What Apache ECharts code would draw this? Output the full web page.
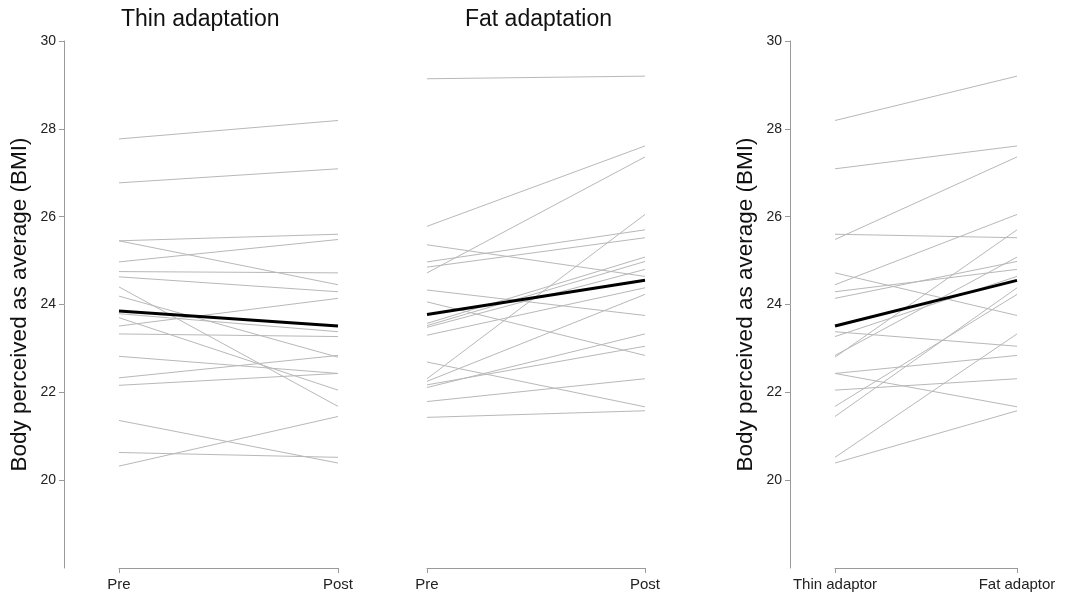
<!DOCTYPE html>
<html>
<head>
<meta charset="utf-8">
<script src="https://cdn.jsdelivr.net/npm/echarts@6/dist/echarts.min.js"></script>
<style>
html,body{margin:0;padding:0;background:#fff;}
#chart{width:1066px;height:596px;}
</style>
</head>
<body>
<div id="chart"></div>
<script>
// Per participant values (BMI perceived as average)
const thinPre  = [27.77, 26.77, 25.45, 24.97, 24.75, 25.45, 24.63, 23.79, 23.51, 23.33, 22.33, 24.19, 22.82, 22.16, 23.70, 24.40, 20.32, 20.63, 21.36];
const thinPost = [28.19, 27.09, 25.60, 25.48, 24.72, 24.45, 24.29, 23.38, 24.14, 23.27, 22.84, 22.80, 22.43, 22.43, 22.05, 21.68, 21.45, 20.52, 20.39];
const fatPre   = [29.14, 25.78, 24.85, 24.72, 24.33, 22.31, 23.48, 22.17, 23.52, 25.36, 23.57, 24.97, 22.69, 24.06, 21.79, 22.25, 23.30, 22.11, 21.43];
const fatPost  = [29.20, 27.61, 25.52, 27.36, 23.75, 26.05, 24.80, 23.05, 24.98, 24.64, 25.08, 25.70, 21.67, 22.84, 22.31, 24.23, 24.38, 23.33, 21.58];
const meanThin    = [23.85, 23.51];
const meanFat     = [23.77, 24.55];
const meanAdaptor = [23.51, 24.55];
const catsAdapt   = ['Pre', 'Post'];
const catsAdaptor = ['Thin adaptor', 'Fat adaptor'];
const titles      = ['Thin adaptation', 'Fat adaptation'];
const yTicks      = [20, 22, 24, 26, 28, 30];
const yName       = 'Body perceived as average (BMI)';

const FONT = 'Liberation Sans, Arial, sans-serif';
const AXIS_COLOR = '#9a9a9a';
const LINE_COLOR = '#b8b8b8';

const grids = [
  {left: 119, width: 219, top: 41, height: 527},
  {left: 427, width: 218, top: 41, height: 527},
  {left: 835, width: 182, top: 41, height: 527}
];
const yOffsets = [55, 0, 45];

function xAx(i, cats) {
  return {
    gridIndex: i, type: 'category', data: cats, boundaryGap: false,
    axisLine: {lineStyle: {color: AXIS_COLOR, width: 1}},
    axisTick: {show: true, length: 5, lineStyle: {color: AXIS_COLOR}},
    axisLabel: {color: '#222', fontSize: 15, fontFamily: FONT, margin: 9},
    splitLine: {show: false}
  };
}
function yAx(i, show) {
  return {
    gridIndex: i, type: 'value', min: 18, max: 30, interval: 2, show: show,
    offset: yOffsets[i],
    name: yName, nameLocation: 'middle', nameGap: 33,
    nameTextStyle: {color: '#111', fontSize: 22.5, fontFamily: FONT},
    axisLine: {show: true, lineStyle: {color: AXIS_COLOR, width: 1}},
    axisTick: {show: true, length: 5, customValues: yTicks, lineStyle: {color: AXIS_COLOR}},
    axisLabel: {color: '#222', fontSize: 14, fontFamily: FONT, margin: 8, customValues: yTicks},
    splitLine: {show: false}
  };
}

const series = [];
function addPanel(idx, a, b, mean) {
  for (let k = 0; k < a.length; k++) {
    series.push({
      type: 'line', xAxisIndex: idx, yAxisIndex: idx, data: [a[k], b[k]],
      symbol: 'none', silent: true, z: 2,
      lineStyle: {color: LINE_COLOR, width: 1}
    });
  }
  series.push({
    type: 'line', xAxisIndex: idx, yAxisIndex: idx, data: mean,
    symbol: 'none', silent: true, z: 5,
    lineStyle: {color: '#000', width: 3}
  });
}
addPanel(0, thinPre, thinPost, meanThin);
addPanel(1, fatPre, fatPost, meanFat);
addPanel(2, thinPost, fatPost, meanAdaptor);

const chart = echarts.init(document.getElementById('chart'), null, {renderer: 'canvas'});
chart.setOption({
  animation: false,
  backgroundColor: '#fff',
  title: [
    {text: titles[0], left: 121, top: 8, padding: 0, textStyle: {fontSize: 23, fontWeight: 'normal', color: '#111', fontFamily: FONT}},
    {text: titles[1], left: 465, top: 8, padding: 0, textStyle: {fontSize: 23, fontWeight: 'normal', color: '#111', fontFamily: FONT}}
  ],
  grid: grids,
  xAxis: [xAx(0, catsAdapt), xAx(1, catsAdapt), xAx(2, catsAdaptor)],
  yAxis: [yAx(0, true), yAx(1, false), yAx(2, true)],
  series: series
});
</script>
</body>
</html>
